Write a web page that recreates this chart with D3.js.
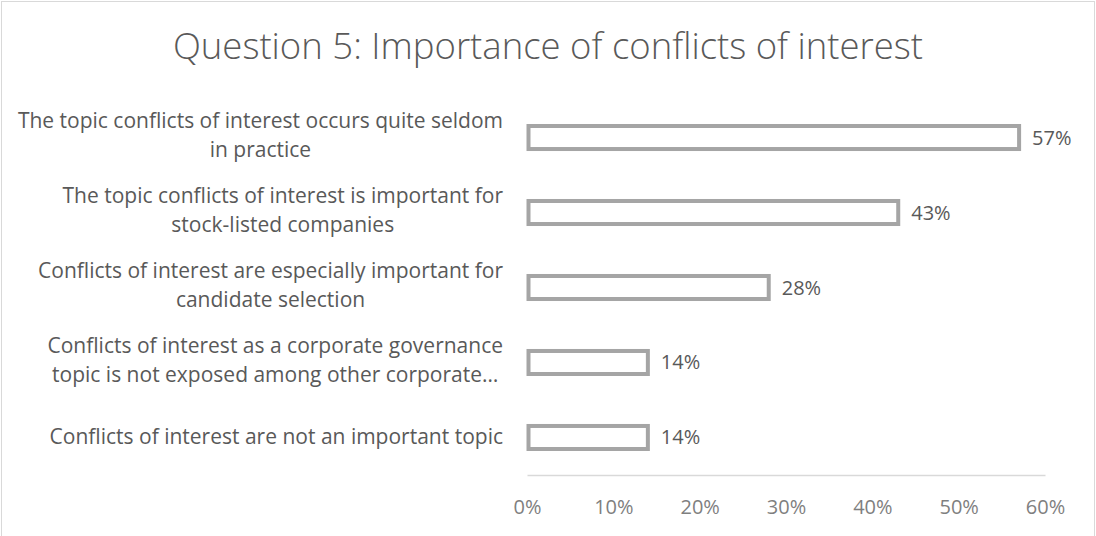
<!DOCTYPE html>
<html>
<head>
<meta charset="utf-8">
<script src="https://cdn.jsdelivr.net/npm/d3@7"></script>
<style>
  html, body { margin: 0; padding: 0; background: #fff; }
  svg { display: block; }
  text { font-family: "Open Sans", Lato, sans-serif; }
</style>
</head>
<body>
<svg id="chart" width="1096" height="536"></svg>
<script>
// Survey answers, top to bottom; "\n" marks the line break of each label
const categories = [
  "The topic conflicts of interest occurs quite seldom\nin practice",
  "The topic conflicts of interest is important for\nstock-listed companies",
  "Conflicts of interest are especially important for\ncandidate selection",
  "Conflicts of interest as a corporate governance\ntopic is not exposed among other corporate\u2026",
  "Conflicts of interest are not an important topic"
];
const shares = [57, 43, 28, 14, 14];
const tickValues = [0, 10, 20, 30, 40, 50, 60];
const chartTitle = "Question 5: Importance of conflicts of interest";

const W = 1096, H = 536;
const plot = { left: 527, right: 1045, top: 100, bottom: 475 };
const labelRight = 503;
const FONT = "'Open Sans', Lato, sans-serif";

const svg = d3.select("#chart");

// outer chart frame
svg.append("rect")
  .attr("x", 1.5).attr("y", 1.5)
  .attr("width", W - 3).attr("height", H + 10)
  .attr("fill", "#fff").attr("stroke", "#d9d9d9").attr("stroke-width", 1);

// title
svg.append("text")
  .attr("x", 548).attr("y", 59)
  .attr("text-anchor", "middle")
  .attr("font-size", 36.5)
  .attr("font-weight", 300)
  .attr("fill", "#595959")
  .text(chartTitle);

const x = d3.scaleLinear().domain([0, 60]).range([plot.left, plot.right]);
const y = d3.scaleBand()
  .domain(d3.range(categories.length))
  .range([plot.top, plot.bottom])
  .paddingInner(0.693)
  .paddingOuter(0.3467);

// horizontal axis: baseline plus percentage labels
const xAxis = d3.axisBottom(x)
  .tickValues(tickValues)
  .tickSize(0)
  .tickPadding(0)
  .tickFormat(d => d + "%");
const axisG = svg.append("g")
  .attr("transform", `translate(0,${plot.bottom})`)
  .call(xAxis);
axisG.select(".domain").attr("stroke", "#d9d9d9").attr("stroke-width", 1.5);
axisG.selectAll(".tick text")
  .attr("y", 39).attr("dy", null)
  .attr("font-size", 20)
  .attr("fill", "#7f7f7f")
  .style("font-family", FONT);

// bars: white fill with grey outline
svg.append("g").selectAll("rect")
  .data(shares)
  .join("rect")
  .attr("x", x(0) + 1.5)
  .attr("y", (d, i) => y(i))
  .attr("width", d => x(d) - x(0) - 1.5)
  .attr("height", y.bandwidth())
  .attr("fill", "#fff")
  .attr("stroke", "#a5a5a5")
  .attr("stroke-width", 4);

// value labels
svg.append("g").selectAll("text")
  .data(shares)
  .join("text")
  .attr("x", d => x(d) + 13)
  .attr("y", (d, i) => y(i) + y.bandwidth() / 2 + 7)
  .attr("font-size", 20)
  .attr("fill", "#595959")
  .text(d => d + "%");

// category labels: each block right-aligned, its lines centred on one another
const lineH = 28.5;
const catG = svg.append("g");
categories.forEach((c, i) => {
  const lines = c.split("\n");
  const cy = y(i) + y.bandwidth() / 2;
  const t = catG.append("text")
    .attr("font-size", 21)
    .attr("fill", "#595959")
    .attr("text-anchor", "middle");
  const first = cy + 7 - (lines.length - 1) * lineH / 2 - (lines.length > 1 ? 2 : 0);
  lines.forEach((ln, k) => {
    t.append("tspan").attr("y", first + k * lineH).text(ln);
  });
  let wmax = 0;
  t.selectAll("tspan").each(function () {
    wmax = Math.max(wmax, this.getComputedTextLength());
  });
  t.selectAll("tspan").attr("x", labelRight - wmax / 2);
});
</script>
</body>
</html>
